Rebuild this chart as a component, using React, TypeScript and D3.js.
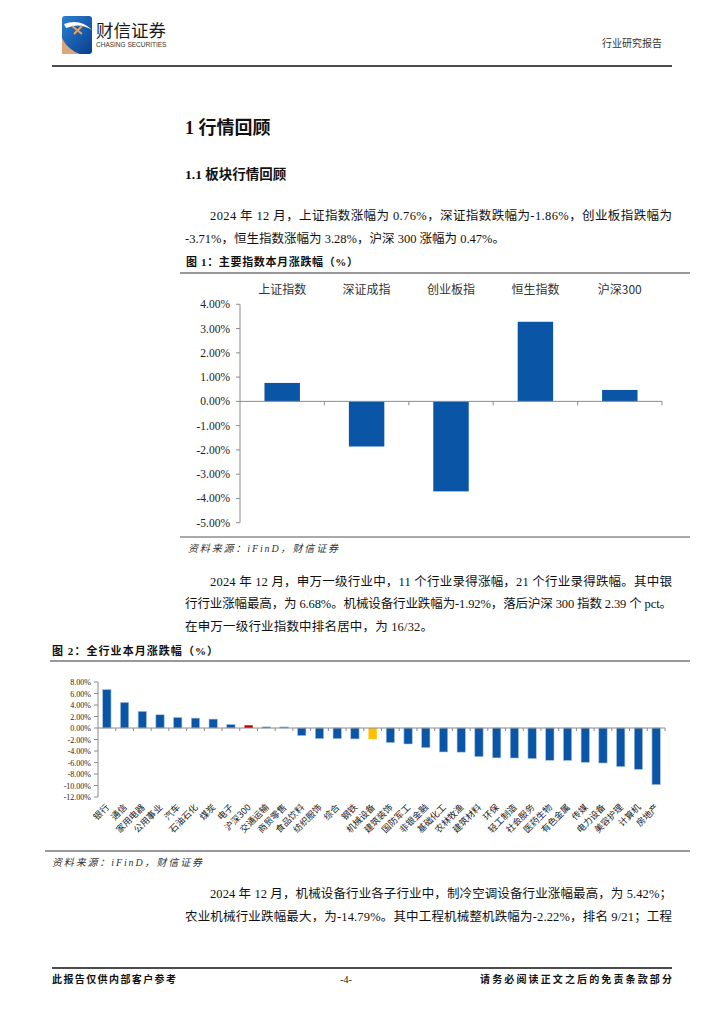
import React from 'react';
import { scaleLinear, scaleBand } from 'd3';

// figure 1: main indices, monthly change (%)
const indexNames = ['上证指数', '深证成指', '创业板指', '恒生指数', '沪深300'];
const indexValues = [0.76, -1.86, -3.71, 3.28, 0.47];
const indexTicks = [4, 3, 2, 1, 0, -1, -2, -3, -4, -5];

// figure 2: all industries, monthly change (%)
const industryNames = [
  '银行', '通信', '家用电器', '公用事业', '汽车', '石油石化', '煤炭', '电子', '沪深300',
  '交通运输', '商贸零售', '食品饮料', '纺织服饰', '综合', '钢铁', '机械设备', '建筑装饰',
  '国防军工', '非银金融', '基础化工', '农林牧渔', '建筑材料', '环保', '轻工制造', '社会服务',
  '医药生物', '有色金属', '传媒', '电力设备', '美容护理', '计算机', '房地产',
];
const industryValues = [
  6.68, 4.45, 2.9, 2.3, 1.85, 1.72, 1.55, 0.62, 0.47,
  0.2, 0.18, -1.32, -1.85, -1.86, -1.9, -1.92, -2.55,
  -2.78, -3.42, -4.17, -4.2, -4.99, -5.2, -5.22, -5.33,
  -5.62, -5.65, -5.97, -6.09, -6.72, -7.19, -9.86,
];
const industryTicks = [8, 6, 4, 2, 0, -2, -4, -6, -8, -10, -12];

const BLUE = '#0B55A6';
const AXIS = '#8c8c8c';
const SERIF = '"Liberation Serif", "Noto Sans CJK SC", serif';
const CJK = '"Noto Sans CJK SC", sans-serif';

const pct = (v: number) => `${v.toFixed(2)}%`;

const Chart1 = () => {
  const y = scaleLinear().domain([-5, 4]).range([522.7, 304.3]);
  const x = scaleBand<string>().domain(indexNames).range([240, 662]).paddingInner(0.58).paddingOuter(0.29);
  const step = x.step();
  return (
    <g>
      {/* y axis */}
      <line x1={240} x2={240} y1={y(4)} y2={y(-5)} stroke={AXIS} />
      {indexTicks.map((t) => (
        <g key={t}>
          <line x1={236} x2={240} y1={y(t)} y2={y(t)} stroke={AXIS} />
          <text x={230} y={y(t) + 4} textAnchor="end" fontFamily={SERIF} fontSize={11.5} fill="#222">
            {pct(t)}
          </text>
        </g>
      ))}
      {indexNames.map((n, i) => (
        <rect
          key={n}
          x={x(n)}
          width={x.bandwidth()}
          y={y(Math.max(0, indexValues[i]))}
          height={Math.abs(y(indexValues[i]) - y(0))}
          fill={BLUE}
        />
      ))}
      {/* zero axis */}
      <line x1={240} x2={662} y1={y(0)} y2={y(0)} stroke={AXIS} />
      {indexNames.map((n, i) => (
        <line key={n} x1={240 + step * (i + 1)} x2={240 + step * (i + 1)} y1={y(0)} y2={y(0) + 4} stroke={AXIS} />
      ))}
      {indexNames.map((n) => (
        <text key={n} x={(x(n) as number) + x.bandwidth() / 2} y={294} textAnchor="middle" fontFamily={CJK} fontSize={12} fill="#333">
          {n}
        </text>
      ))}
    </g>
  );
};

const Chart2 = () => {
  const y = scaleLinear().domain([-12, 8]).range([797, 682]);
  const x = scaleBand<string>().domain(industryNames).range([98, 665]).paddingInner(0.53).paddingOuter(0.265);
  const step = x.step();
  const color = (n: string) => (n === '沪深300' ? '#C00000' : n === '机械设备' ? '#FFC000' : BLUE);
  return (
    <g>
      <line x1={98} x2={98} y1={y(8)} y2={y(-12)} stroke={AXIS} />
      {industryTicks.map((t) => (
        <g key={t}>
          <line x1={94} x2={98} y1={y(t)} y2={y(t)} stroke={AXIS} />
          <text x={91} y={y(t) + 3} textAnchor="end" fontFamily={SERIF} fontSize={8} fill="#222">
            {pct(t)}
          </text>
        </g>
      ))}
      {industryNames.map((n, i) => (
        <rect
          key={n}
          x={x(n)}
          width={x.bandwidth()}
          y={y(Math.max(0, industryValues[i]))}
          height={Math.abs(y(industryValues[i]) - y(0))}
          fill={color(n)}
          stroke={n === '沪深300' || n === '机械设备' ? 'none' : '#a7c3e3'}
          strokeWidth={0.6}
        />
      ))}
      <line x1={98} x2={665} y1={y(0)} y2={y(0)} stroke={AXIS} />
      {industryNames.map((n, i) => (
        <line key={n} x1={98 + step * (i + 1)} x2={98 + step * (i + 1)} y1={y(0)} y2={y(0) + 3} stroke={AXIS} />
      ))}
      {industryNames.map((n) => {
        const cx = (x(n) as number) + x.bandwidth() / 2;
        return (
          <text
            key={n}
            transform={`translate(${cx + 3},${808}) rotate(-45)`}
            textAnchor="end"
            fontFamily={CJK}
            fontSize={9}
            fill="#222"
          >
            {n}
          </text>
        );
      })}
    </g>
  );
};

const Body = ({ x, y, w, children }: { x: number; y: number; w?: number; children: string }) => (
  <text
    x={x}
    y={y}
    fontFamily={SERIF}
    fontSize={12.5}
    fill="#111"
    textLength={w}
    lengthAdjust={w ? 'spacing' : undefined}
  >
    {children}
  </text>
);

const App = () => (
  <svg
    width={724}
    height={1024}
    viewBox="0 0 724 1024"
    style={{ position: 'absolute', left: 0, top: 0, background: '#fff' }}
  >
    <defs>
      <linearGradient id="logoGrad" x1="0" y1="0" x2="1" y2="1">
        <stop offset="0" stopColor="#2b7fd0" />
        <stop offset="1" stopColor="#0a3f8f" />
      </linearGradient>
    </defs>
    {/* header */}
    <rect x={62} y={16} width={30} height={38} rx={3} fill="url(#logoGrad)" />
    <path d="M62 38 L62 54 L80 54 Q68 50 62 38 Z" fill="#d9a77a" />
    <path d="M64 24 Q80 18 92 30 Q80 22 66 28 Z" fill="#fff" />
    <path d="M72 26 L82 34 M82 26 L74 34" stroke="#e8a060" strokeWidth={2} />
    <text x={96} y={37} fontFamily={CJK} fontSize={17.5} fill="#1b1b1b">财信证券</text>
    <text x={96} y={47} fontFamily='"Liberation Sans", sans-serif' fontSize={6.5} fill="#333">CHASING SECURITIES</text>
    <text x={662} y={47} textAnchor="end" fontFamily={CJK} fontSize={10} fill="#333">行业研究报告</text>
    <line x1={52} x2={672} y1={66} y2={66} stroke="#111" strokeWidth={1.3} />

    {/* headings */}
    <text x={185} y={134} fontFamily={SERIF} fontWeight="bold" fontSize={18} fill="#111">1 行情回顾</text>
    <text x={185} y={179} fontFamily={SERIF} fontWeight="bold" fontSize={13.5} fill="#111">1.1 板块行情回顾</text>

    <Body x={210} y={220} w={462}>2024 年 12 月，上证指数涨幅为 0.76%，深证指数跌幅为-1.86%，创业板指跌幅为</Body>
    <Body x={185} y={243} w={320}>-3.71%，恒生指数涨幅为 3.28%，沪深 300 涨幅为 0.47%。</Body>

    {/* figure 1 */}
    <text x={186} y={266} fontFamily={SERIF} fontWeight="bold" fontSize={11} fill="#111" textLength={172} lengthAdjust="spacing">图 1：主要指数本月涨跌幅（%）</text>
    <line x1={180} x2={690} y1={273} y2={273} stroke="#333" strokeWidth={1} />
    <Chart1 />
    <line x1={180} x2={690} y1={537} y2={537} stroke="#555" strokeWidth={1} />
    <text x={188} y={552} fontFamily={SERIF} fontStyle="italic" fontSize={10} fill="#333" textLength={150} lengthAdjust="spacing">资料来源：iFinD，财信证券</text>

    <Body x={210} y={586} w={462}>2024 年 12 月，申万一级行业中，11 个行业录得涨幅，21 个行业录得跌幅。其中银</Body>
    <Body x={185} y={608} w={487}>行行业涨幅最高，为 6.68%。机械设备行业跌幅为-1.92%，落后沪深 300 指数 2.39 个 pct。</Body>
    <Body x={185} y={631} w={248}>在申万一级行业指数中排名居中，为 16/32。</Body>

    {/* figure 2 */}
    <text x={52} y={655} fontFamily={SERIF} fontWeight="bold" fontSize={11} fill="#111" textLength={166} lengthAdjust="spacing">图 2：全行业本月涨跌幅（%）</text>
    <line x1={50} x2={690} y1={661} y2={661} stroke="#333" strokeWidth={1} />
    <Chart2 />
    <line x1={45} x2={690} y1={851} y2={851} stroke="#777" strokeWidth={1.5} />
    <text x={52} y={866} fontFamily={SERIF} fontStyle="italic" fontSize={10} fill="#333" textLength={150} lengthAdjust="spacing">资料来源：iFinD，财信证券</text>

    <Body x={210} y={898} w={462}>2024 年 12 月，机械设备行业各子行业中，制冷空调设备行业涨幅最高，为 5.42%；</Body>
    <Body x={185} y={921} w={487}>农业机械行业跌幅最大，为-14.79%。其中工程机械整机跌幅为-2.22%，排名 9/21；工程</Body>

    {/* footer */}
    <line x1={52} x2={672} y1={968} y2={968} stroke="#111" strokeWidth={1.3} />
    <text x={52} y={983} fontFamily={SERIF} fontWeight="bold" fontSize={10} fill="#111" textLength={124} lengthAdjust="spacing">此报告仅供内部客户参考</text>
    <text x={346} y={983} textAnchor="middle" fontFamily={SERIF} fontSize={10} fill="#111">-4-</text>
    <text x={480} y={983} fontFamily={SERIF} fontWeight="bold" fontSize={10} fill="#111" textLength={192} lengthAdjust="spacing">请务必阅读正文之后的免责条款部分</text>
  </svg>
);

export default App;
